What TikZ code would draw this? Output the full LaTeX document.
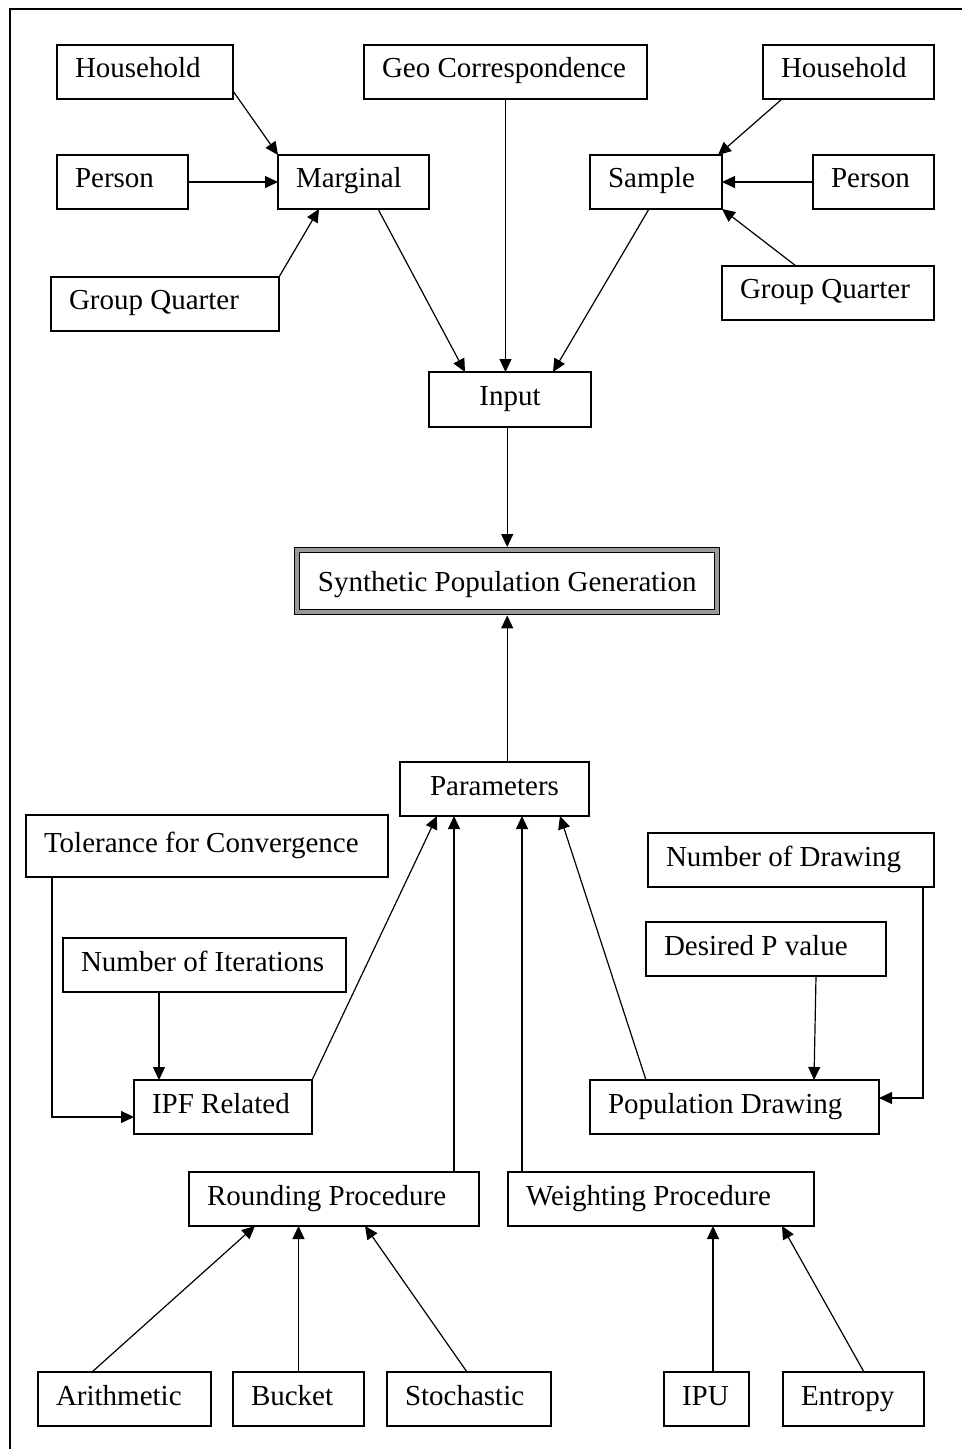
\documentclass[tikz,border=0pt]{standalone}
\usepackage{fontspec}
\setmainfont{Liberation Serif}
\usetikzlibrary{arrows.meta, calc}

\begin{document}
\begin{tikzpicture}[
  x=0.5pt, y=-0.5pt,
  box/.style={draw, line width=0.7pt, anchor=north west, outer sep=0pt,
    inner xsep=9pt, inner ysep=0pt, minimum height=27pt,
    text height=10pt, text depth=4pt, font=\fontsize{14.5}{17}\selectfont,
    execute at begin node={\hbox to #1\bgroup}, execute at end node={\hfil\egroup}},
  cbox/.style={draw, line width=0.7pt, anchor=north west, outer sep=0pt, inner sep=0pt,
    minimum width=#1, minimum height=27.5pt, text height=10pt, text depth=4pt,
    font=\fontsize{14.5}{17}\selectfont},
  arr/.style={-{Triangle[length=6.5pt, width=6pt]}, line width=0.6pt}
]
\useasboundingbox (0,0) rectangle (962,1449);
\draw[line width=0.75pt] (10,1460) |- (975,9);

% inputs
\node[box=70pt] (hhL) at (57,45) {Household};
\node[box=123.5pt] (geo) at (364,45) {Geo Correspondence};
\node[box=67.5pt] (hhR) at (763,45) {Household};
\node[box=47.5pt] (perL) at (57,155) {Person};
\node[box=57.5pt] (marg) at (278,155) {Marginal};
\node[box=48pt] (samp) at (590,155) {Sample};
\node[box=42.5pt] (perR) at (813,155) {Person};
\node[box=96pt] (gqL) at (51,277) {Group Quarter};
\node[box=88pt] (gqR) at (722,266) {Group Quarter};
\node[cbox=81pt] (input) at (429,372) {Input};

\node[cbox=210pt, minimum height=31pt, double=gray!80, double distance=1.8pt,
  text depth=-1pt, outer sep=1.6pt] (spg) at (294,547) {Synthetic Population Generation};

% parameters
\node[cbox=94.5pt, minimum height=27pt] (params) at (400,762) {Parameters};
\node[box=163pt, minimum height=31pt] (tol) at (26,815) {Tolerance for Convergence};
\node[box=123.5pt] (numIt) at (63,938) {Number of Iterations};
\node[box=71pt] (ipf) at (134,1080) {IPF Related};
\node[box=125pt] (numDr) at (648,833) {Number of Drawing};
\node[box=102pt] (desP) at (646,922) {Desired P value};
\node[box=126.5pt] (pop) at (590,1080) {Population Drawing};
\node[box=127pt] (round) at (189,1172) {Rounding Procedure};
\node[box=135pt] (weight) at (508,1172) {Weighting Procedure};
\node[box=68.5pt] (arith) at (38,1372) {Arithmetic};
\node[box=47.5pt] (bucket) at (233,1372) {Bucket};
\node[box=64pt] (stoch) at (387,1372) {Stochastic};
\node[box=24.5pt] (ipu) at (664,1372) {IPU};
\node[box=52.5pt] (entropy) at (783,1372) {Entropy};

\draw[arr] ($(hhL.south east)+(0,-8)$) -- (marg.north west);
\draw[arr] (perL.east) -- (marg.west);
\draw[arr] (gqL.north east) -- ($(marg.south west)+(41,0)$);
\draw[arr] ($(marg.south east)+(-51,0)$) -- ($(input.north west)+(36,0)$);
\draw[arr] (geo.south) -- (geo.south |- input.north);
\draw[arr] ($(samp.south west)+(59,0)$) -- ($(input.north east)+(-38,0)$);
\draw[arr] ($(hhR.south west)+(19,0)$) -- ($(samp.north east)+(-4,0)$);
\draw[arr] (perR.west) -- (samp.east);
\draw[arr] ($(gqR.north west)+(74,0)$) -- (samp.south east);
\draw[arr] (spg.north |- input.south) -- (spg.north);
\draw[arr] (spg.south |- params.north) -- (spg.south);

\draw[arr] (ipf.north east) -- ($(params.south west)+(37,0)$);
\draw[arr] ($(round.north east)+(-25,0)$) coordinate (rp) -- (rp |- params.south);
\draw[arr] ($(weight.north west)+(14,0)$) coordinate (wp) -- (wp |- params.south);
\draw[arr] ($(pop.north west)+(56,0)$) -- ($(params.south east)+(-29,0)$);
\draw[arr] ($(tol.south west)+(26,0)$) |- ($(ipf.south west)+(0,-17)$);
\draw[arr] ($(numIt.south west)+(96,0)$) coordinate (ni) -- (ni |- ipf.north);
\draw[arr] ($(numDr.south east)+(-11,0)$) |- ($(pop.north east)+(0,18)$);
\draw[arr] ($(desP.south east)+(-70,0)$) -- ($(pop.north west)+(224,0)$);
\draw[arr] ($(arith.north west)+(54,0)$) -- ($(round.south west)+(66,0)$);
\draw[arr] (bucket.north) -- (bucket.north |- round.south);
\draw[arr] ($(stoch.north west)+(80,0)$) -- ($(round.south west)+(176,0)$);
\draw[arr] ($(ipu.north west)+(49,0)$) coordinate (iu) -- (iu |- weight.south);
\draw[arr] ($(entropy.north west)+(81,0)$) -- ($(weight.south west)+(274,0)$);
\end{tikzpicture}
\end{document}
